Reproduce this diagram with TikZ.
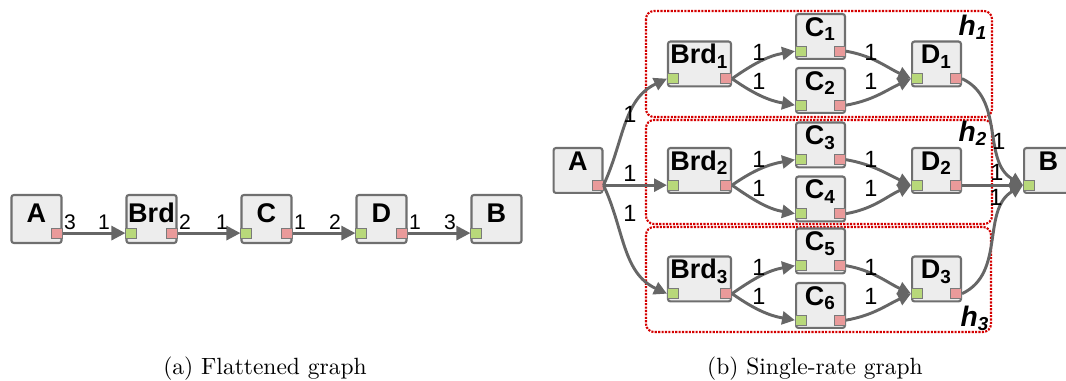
\documentclass[tikz,border=0pt]{standalone}
\usepackage{fontspec}
\usepackage{tikz}
\usetikzlibrary{positioning,arrows.meta}
\newfontfamily\arialfont{Liberation Sans}
\definecolor{boxfill}{HTML}{EDEDED}
\definecolor{boxline}{HTML}{6F6F6F}
\definecolor{edgegray}{HTML}{666666}
\definecolor{portline}{HTML}{7A7A7A}
\definecolor{ingreen}{HTML}{B8D87A}
\definecolor{outred}{HTML}{E99A9A}
\definecolor{groupred}{HTML}{D40000}

\begin{document}
\begin{tikzpicture}[x=0.4255pt, y=0.4255pt,
    actor/.style={draw=boxline, fill=boxfill, line width=0.9pt, rounded corners=1pt, inner sep=0pt,
        minimum width=21.3pt, minimum height=20.4pt, text height=8.1pt, text depth=4.7pt,
        font=\arialfont\bfseries\fontsize{11.5}{12}\selectfont},
    sactor/.style={actor, minimum width=20.8pt, minimum height=19.1pt, text depth=8.1pt},
    wide/.style={minimum width=26.8pt},
    inport/.style={draw=portline, fill=ingreen, line width=0.4pt, inner sep=0pt,
        minimum width=4.7pt, minimum height=4.3pt},
    outport/.style={inport, fill=outred},
    edge/.style={draw=edgegray, line width=1.25pt, ->, >={Triangle[length=5.5pt,width=5.5pt]}},
    bigedge/.style={edge, >={Triangle[length=6pt,width=6pt]}},
    rate/.style={font=\arialfont\fontsize{9}{10}\selectfont, inner sep=0pt},
    srate/.style={rate, font=\arialfont\fontsize{10}{11}\selectfont},
    group/.style={draw=groupred, line width=0.9pt, dash pattern=on 0.9pt off 0.55pt, rounded corners=3.4pt},
    grouplabel/.style={font=\arialfont\bfseries\itshape\fontsize{12}{13}\selectfont, inner sep=0pt},
    caption/.style={font=\fontsize{10}{12}\selectfont, inner sep=0pt}]
    \clip (0,0) rectangle (1066,381);

    % (a) Flattened graph
    \node[actor] (A) at (36.5,162) {A};
    \node[actor] (Brd) at (151.5,162) {Brd};
    \node[actor] (C) at (266.5,162) {C};
    \node[actor] (D) at (381.5,162) {D};
    \node[actor] (B) at (496.5,162) {B};
    \foreach \n in {A,Brd,C,D}
        \node[outport, above left=2.3pt and 0pt of \n.south east] (\n-out) {};
    \foreach \n in {Brd,C,D,B}
        \node[inport, above right=2.3pt and 0pt of \n.south west] (\n-in) {};

    \draw[bigedge] (A-out) -- (Brd-in);
    \draw[bigedge] (Brd-out) -- (C-in);
    \draw[bigedge] (C-out) -- (D-in);
    \draw[bigedge] (D-out) -- (B-in);

    % Rates
    \node[rate] (a1) at (70,159) {3};
    \node[rate] (a2) at (104,159) {1};
    \node[rate] (a3) at (185,159) {2};
    \node[rate] (a4) at (222,159) {1};
    \node[rate] (a5) at (300,159) {1};
    \node[rate] (a6) at (335,159) {2};
    \node[rate] (a7) at (415,159) {1};
    \node[rate] (a8) at (450,159) {3};

    % (b) Single-rate graph
    \draw[group] (646,370) rectangle (992,264);
    \draw[group] (646,261) rectangle (992,157);
    \draw[group] (646,154) rectangle (991,49);
    \node[grouplabel] (h1) at (973,354) {h\textsubscript{1}};
    \node[grouplabel] (h2) at (973,248) {h\textsubscript{2}};
    \node[grouplabel] (h3) at (975,63) {h\textsubscript{3}};

    \node[sactor] (sA) at (578,210.5) {A};
    \node[sactor, wide] (sBrd1) at (699.5,317) {Brd\textsubscript{1}};
    \node[sactor, wide] (sBrd2) at (699.5,210.5) {Brd\textsubscript{2}};
    \node[sactor, wide] (sBrd3) at (699.5,102) {Brd\textsubscript{3}};
    \node[sactor] (sC1) at (820.5,344.5) {C\textsubscript{1}};
    \node[sactor] (sC2) at (820.5,290.5) {C\textsubscript{2}};
    \node[sactor] (sC3) at (820.5,236) {C\textsubscript{3}};
    \node[sactor] (sC4) at (820.5,182) {C\textsubscript{4}};
    \node[sactor] (sC5) at (820.5,130) {C\textsubscript{5}};
    \node[sactor] (sC6) at (820.5,75.5) {C\textsubscript{6}};
    \node[sactor] (sD1) at (936.5,317) {D\textsubscript{1}};
    \node[sactor] (sD2) at (936.5,210.5) {D\textsubscript{2}};
    \node[sactor] (sD3) at (936.5,102) {D\textsubscript{3}};
    \node[sactor] (sB) at (1048.5,210.5) {B};
    \foreach \n in {sA,sBrd1,sBrd2,sBrd3,sC1,sC2,sC3,sC4,sC5,sC6,sD1,sD2,sD3}
        \node[outport, above left=1.4pt and 0pt of \n.south east] (\n-out) {};
    \foreach \n in {sBrd1,sBrd2,sBrd3,sC1,sC2,sC3,sC4,sC5,sC6,sD1,sD2,sD3,sB}
        \node[inport, above right=1.4pt and 0pt of \n.south west] (\n-in) {};

    % A to the broadcasts
    \draw[edge] (sA-out.east) to[out=65,in=205] (sBrd1-in.west);
    \draw[edge] (sA-out) -- (sBrd2-in);
    \draw[edge] (sA-out.east) to[out=-65,in=155] (sBrd3-in.west);

    % broadcasts to C
    \draw[edge] (sBrd1-out.east) to[out=35,in=190] (sC1-in.west);
    \draw[edge] (sBrd1-out.east) to[out=-35,in=170] (sC2-in.west);
    \draw[edge] (sBrd2-out.east) to[out=35,in=190] (sC3-in.west);
    \draw[edge] (sBrd2-out.east) to[out=-35,in=170] (sC4-in.west);
    \draw[edge] (sBrd3-out.east) to[out=35,in=190] (sC5-in.west);
    \draw[edge] (sBrd3-out.east) to[out=-35,in=170] (sC6-in.west);

    % C to D
    \draw[edge] (sC1-out.east) to[out=-10,in=155] (sD1-in.west);
    \draw[edge] (sC2-out.east) to[out=10,in=205] (sD1-in.west);
    \draw[edge] (sC3-out.east) to[out=-10,in=155] (sD2-in.west);
    \draw[edge] (sC4-out.east) to[out=10,in=205] (sD2-in.west);
    \draw[edge] (sC5-out.east) to[out=-10,in=155] (sD3-in.west);
    \draw[edge] (sC6-out.east) to[out=10,in=205] (sD3-in.west);

    % D to B
    \draw[edge] (sD1-out.east) to[out=-25,in=150] (sB-in.west);
    \draw[edge] (sD2-out) -- (sB-in);
    \draw[edge] (sD3-out.east) to[out=25,in=210] (sB-in.west);

    % Rates
    \node[srate] (b1) at (630,267) {1};
    \node[srate] (b2) at (630,208) {1};
    \node[srate] (b3) at (630,168) {1};
    \foreach \y [count=\i] in {328.5,299.5,222,193,113.5,84.5} {
        \node[srate] (bc\i) at (759,\y) {1};
        \node[srate] (cd\i) at (871,\y) {1};
    }
    \node[srate] (b4) at (999,240) {1};
    \node[srate] (b5) at (997,209) {1};
    \node[srate] (b6) at (996,184) {1};

    % Captions
    \node[caption] (capa) at (265,12) {(a) Flattened graph};
    \node[caption] (capb) at (815,12) {(b) Single-rate graph};
\end{tikzpicture}
\end{document}
